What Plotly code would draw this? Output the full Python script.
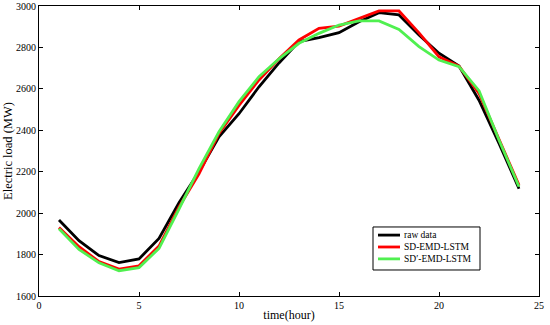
import plotly.graph_objects as go

hours = list(range(1, 25))
raw_data = [1967, 1867, 1795, 1761, 1779, 1878, 2050, 2200, 2369, 2480, 2610, 2725,
            2828, 2847, 2871, 2924, 2968, 2957, 2860, 2772, 2710, 2545, 2337, 2118]
sd_emd_lstm = [1931, 1838, 1766, 1730, 1746, 1841, 2030, 2190, 2385, 2520, 2643, 2745,
               2836, 2892, 2903, 2940, 2976, 2976, 2870, 2755, 2710, 2578, 2355, 2135]
sdp_emd_lstm = [1925, 1825, 1760, 1722, 1737, 1830, 2020, 2215, 2393, 2538, 2659, 2745,
                2820, 2868, 2908, 2928, 2928, 2887, 2804, 2739, 2707, 2591, 2353, 2128]

series_names = ["raw data", "SD-EMD-LSTM", "SD\u2032-EMD-LSTM"]
series_colors = ["#000000", "#ff0000", "#50f050"]
series_values = [raw_data, sd_emd_lstm, sdp_emd_lstm]

x_ticks = [0, 5, 10, 15, 20, 25]
y_ticks = [1600, 1800, 2000, 2200, 2400, 2600, 2800, 3000]

font_family = "Liberation Serif"

fig = go.Figure()
for name, color, vals in zip(series_names, series_colors, series_values):
    fig.add_trace(go.Scatter(x=hours, y=vals, mode="lines", name=name,
                             line=dict(color=color, width=2.8), showlegend=False))

axis_common = dict(showgrid=False, zeroline=False, showline=True, linecolor="black",
                   linewidth=1, mirror="ticks", ticks="inside", ticklen=4,
                   tickcolor="black", automargin=False,
                   tickfont=dict(family=font_family, size=10, color="black"))

fig.update_layout(
    width=550, height=325,
    margin=dict(l=39, r=11, t=6, b=29),
    plot_bgcolor="white", paper_bgcolor="white",
    font=dict(family=font_family, color="black"),
    xaxis=dict(range=[0, 25], tickvals=x_ticks,
               title=dict(text="time(hour)", font=dict(family=font_family, size=12), standoff=0),
               **axis_common),
    yaxis=dict(range=[1600, 3000], tickvals=y_ticks,
               title=dict(text="Electric load (MW)", font=dict(family=font_family, size=12.5), standoff=0),
               **axis_common),
)

# legend box drawn in paper coordinates
box_x0, box_x1, box_y0, box_y1 = 0.668, 0.882, 0.0897, 0.238
row_y = [0.210, 0.169, 0.128]
fig.add_shape(type="rect", xref="paper", yref="paper",
              x0=box_x0, x1=box_x1, y0=box_y0, y1=box_y1,
              line=dict(color="black", width=1), fillcolor="white", layer="above")
for name, color, yy in zip(series_names, series_colors, row_y):
    fig.add_shape(type="line", xref="paper", yref="paper",
                  x0=0.678, x1=0.722, y0=yy, y1=yy,
                  line=dict(color=color, width=2.8), layer="above")
    fig.add_annotation(xref="paper", yref="paper", x=0.726, y=yy,
                       xanchor="left", yanchor="middle", text=name, showarrow=False,
                       font=dict(family=font_family, size=9.5, color="black"))

fig.write_html("out.html", config={"displayModeBar": False},
               post_script="document.body.style.margin='0';document.body.style.overflow='hidden';")
